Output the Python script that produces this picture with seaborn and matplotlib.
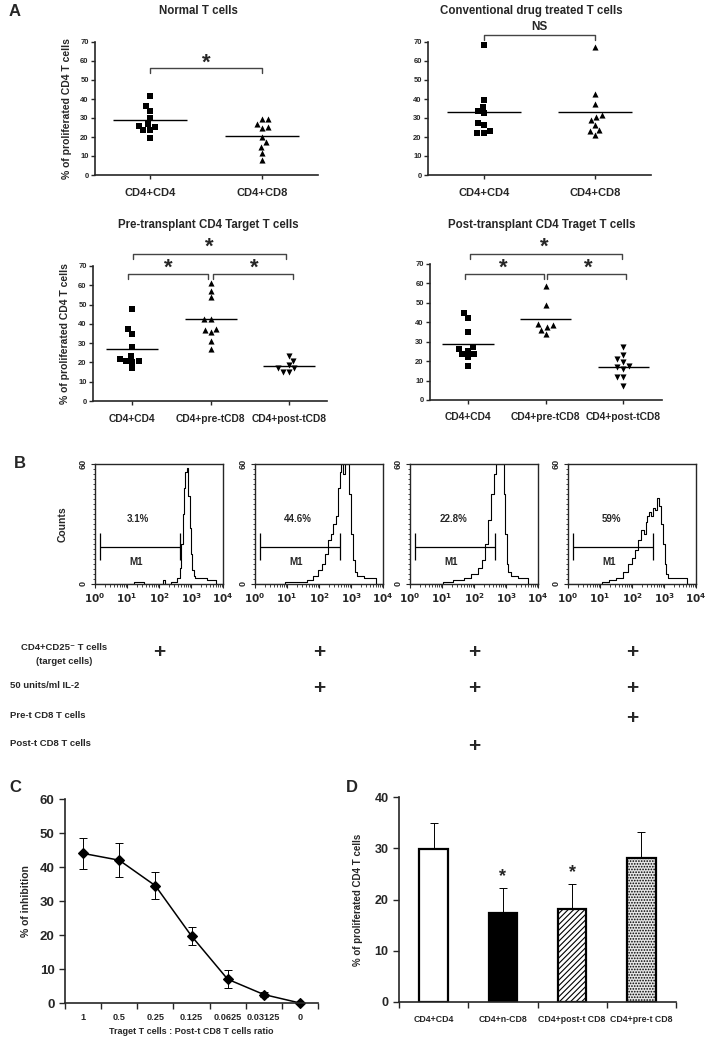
import numpy as np
import matplotlib
matplotlib.use("Agg")
import matplotlib.pyplot as plt
from matplotlib.ticker import MultipleLocator, FixedLocator, NullFormatter
import seaborn as sns

# ---------------------------------------------------------------------------
# Data
# ---------------------------------------------------------------------------

# Panel A — % of proliferated CD4 T cells
normal_cd4 = [41.7, 36.4, 33.9, 29.9, 25.9, 23.7, 23.7, 25.5, 26.7, 19.5]
normal_cd8 = [29.7, 29.7, 25.0, 24.6, 26.9, 20.2, 14.8, 17.2, 11.6, 7.7]
drug_cd4 = [68.2, 39.6, 35.7, 32.5, 33.8, 27.6, 26.4, 23.4, 22.0, 22.3]
drug_cd8 = [67.4, 42.6, 37.6, 28.7, 30.4, 31.5, 26.4, 23.6, 22.9, 21.1]
pre_cd4 = [47.6, 37.2, 34.8, 28.2, 22.0, 20.6, 20.2, 20.9, 23.3, 16.9]
pre_pre_cd8 = [61.4, 57.2, 54.0, 42.5, 42.5, 37.5, 35.8, 36.7, 31.1, 27.1]
pre_post_cd8 = [23.2, 20.6, 18.5, 17.1, 15.2, 15.2, 17.1]
post_cd4 = [44.6, 42.0, 34.8, 25.2, 23.5, 26.2, 27.3, 21.9, 23.5, 17.5]
post_pre_cd8 = [58.8, 48.9, 38.6, 37.4, 38.9, 33.9, 36.0]
post_post_cd8 = [27.1, 20.9, 19.7, 23.0, 17.5, 16.1, 17.0, 12.0, 11.7, 7.4]

two_groups = ["CD4+CD4", "CD4+CD8"]
three_groups = ["CD4+CD4", "CD4+pre-tCD8", "CD4+post-tCD8"]

# Panel B — CFSE histograms (log10 fluorescence, counts)
hist1_log = [0, 1.2, 1.25, 1.5, 1.55, 2.1, 2.15, 2.2, 2.5, 2.62, 2.68, 2.72, 2.76,
             2.8, 2.85, 2.9, 2.94, 2.98, 3.02, 3.06, 3.1, 3.15, 3.4, 3.6, 3.78, 3.8, 4]
hist1_cnt = [0, 0, 1, 1, 0, 0, 2, 0, 1, 3, 8, 20, 35, 48, 56, 58, 44, 28, 15, 7,
             4, 3, 3, 2, 2, 0, 0]
hist2_log = [0, 0.9, 1.0, 1.5, 1.7, 1.9, 2.05, 2.15, 2.25, 2.32, 2.4, 2.5, 2.58,
             2.63, 2.68, 2.72, 2.78, 2.84, 2.9, 2.96, 3.02, 3.08, 3.15, 3.25, 3.5, 3.78, 3.8, 4]
hist2_cnt = [0, 0, 1, 1, 2, 4, 7, 10, 15, 22, 25, 30, 34, 48, 56, 60, 55, 60, 60,
             45, 25, 12, 6, 4, 3, 3, 0, 0]
hist3_log = [0, 1.0, 1.05, 1.5, 1.8, 2.0, 2.2, 2.3, 2.4, 2.5, 2.58, 2.65, 2.72,
             2.9, 2.95, 3.0, 3.05, 3.1, 3.2, 3.5, 3.68, 3.7, 4]
hist3_cnt = [0, 0, 1, 2, 3, 5, 8, 12, 20, 32, 45, 55, 60, 60, 45, 25, 10, 6, 4,
             3, 3, 0, 0]
hist4_log = [0, 1.0, 1.1, 1.4, 1.6, 1.8, 1.95, 2.05, 2.15, 2.25, 2.32, 2.4, 2.45,
             2.5, 2.56, 2.62, 2.68, 2.74, 2.82, 2.88, 2.94, 3.0, 3.05, 3.1, 3.15,
             3.5, 3.72, 3.74, 4]
hist4_cnt = [0, 0, 1, 2, 3, 6, 10, 13, 17, 22, 27, 25, 31, 34, 36, 34, 38, 37, 43,
             39, 30, 20, 10, 5, 3, 3, 3, 0, 0]
gate_pct = ["3.1%", "44.6%", "22.8%", "59%"]
gate_bounds = (10 ** 0.15, 10 ** 2.65)

# Panel B — culture conditions table
row_labels = ["CD4+CD25\u207b T cells\n(target cells)", "50 units/ml IL-2",
              "Pre-t CD8 T cells", "Post-t CD8 T cells"]
presence = [[1, 1, 1, 1],
            [0, 1, 1, 1],
            [0, 0, 0, 1],
            [0, 0, 1, 0]]

# Panel C — inhibition vs ratio
ratio_labels = ["1", "0.5", "0.25", "0.125", "0.0625", "0.03125", "0"]
inhibition = [44.0, 42.0, 34.5, 19.7, 7.0, 2.5, 0.0]
inhibition_err = [4.5, 5.0, 4.0, 2.6, 2.7, 0.6, 0.0]

# Panel D — bar chart
d_groups = ["CD4+CD4", "CD4+n-CD8", "CD4+post-t CD8", "CD4+pre-t CD8"]
d_values = [29.9, 17.3, 18.2, 28.1]
d_errors = [5.1, 4.9, 4.8, 5.0]
d_signif = [False, True, True, False]

# ---------------------------------------------------------------------------
# Figure setup
# ---------------------------------------------------------------------------
sns.set_style("ticks")
plt.rcParams["font.family"] = ["Liberation Sans", "DejaVu Sans"]
plt.rcParams["font.weight"] = "bold"
plt.rcParams["axes.labelweight"] = "bold"
plt.rcParams["hatch.linewidth"] = 0.8

W, H = 710, 1050
fig = plt.figure(figsize=(W / 100, H / 100), dpi=100)


def px_axes(l, t, r, b):
    return fig.add_axes([l / W, (H - b) / H, (r - l) / W, (b - t) / H])


def ftext(x, y, s, **kw):
    kw.setdefault("ha", "center")
    kw.setdefault("va", "center")
    return fig.text(x / W, 1 - y / H, s, **kw)


def bracket(ax, x0, x1, y, drop=2.5):
    ax.plot([x0, x0, x1, x1], [y - drop, y, y, y - drop], color="#444444",
            lw=1.0, clip_on=False)


def star(ax, x, y, size=16):
    ax.text(x, y, "*", fontsize=size, ha="center", va="center", clip_on=False)


def dot_panel(ax, cats, groups, markers, xlim, ylabel=None, catsize=8):
    for cat, vals, m in zip(cats, groups, markers):
        sns.swarmplot(x=[cat] * len(vals), y=vals, order=cats, marker=m,
                      color="black", size=4.4, linewidth=0, ax=ax)
        i = cats.index(cat)
        ax.hlines(np.mean(vals), i - 0.33, i + 0.33, color="black", lw=1.0)
    ax.set_xlim(*xlim)
    ax.set_ylim(0, 70)
    ax.yaxis.set_major_locator(MultipleLocator(10))
    sns.despine(ax=ax)
    for s in ("left", "bottom"):
        ax.spines[s].set_linewidth(1.2)
    ax.tick_params(axis="y", labelsize=5.5, length=3, width=1, pad=1.5)
    ax.tick_params(axis="x", labelsize=catsize, length=3, width=1, pad=6)
    ax.set_xlabel("")
    if ylabel:
        ax.set_ylabel(ylabel, fontsize=7.5, labelpad=6)
    else:
        ax.set_ylabel("")


# ---------------------------------------------------------------------------
# Panel A
# ---------------------------------------------------------------------------
ylab = "% of proliferated CD4 T cells"

ax = px_axes(95, 42, 318, 175)
dot_panel(ax, two_groups, [normal_cd4, normal_cd8], ["s", "^"], (-0.49, 1.5), ylab)
bracket(ax, 0, 1, 56.3)
star(ax, 0.5, 58.8)
ftext(198, 11, "Normal T cells", fontsize=8.3)

ax = px_axes(428, 42, 651, 175)
dot_panel(ax, two_groups, [drug_cd4, drug_cd8], ["s", "^"], (-0.5, 1.5))
bracket(ax, 0, 1, 73.7)
ax.text(0.5, 78, "NS", fontsize=8.5, ha="center", va="center", clip_on=False)
ftext(531, 11, "Conventional drug treated T cells", fontsize=8.3)

ax = px_axes(93, 266, 327, 401)
dot_panel(ax, three_groups, [pre_cd4, pre_pre_cd8, pre_post_cd8],
          ["s", "^", "v"], (-0.5, 2.48), ylab, catsize=7.4)
bracket(ax, 0.01, 1.96, 76.2)
bracket(ax, -0.05, 0.97, 65.8)
bracket(ax, 1.03, 2.05, 65.8)
for xm, ym in [(0.98, 79.5), (0.46, 69.0), (1.55, 69.0)]:
    star(ax, xm, ym)
ftext(208, 225, "Pre-transplant CD4 Target T cells", fontsize=8.3)

ax = px_axes(430, 264, 662, 400)
dot_panel(ax, three_groups, [post_cd4, post_pre_cd8, post_post_cd8],
          ["s", "^", "v"], (-0.49, 2.5), catsize=7.4)
bracket(ax, 0.02, 1.98, 75.0)
bracket(ax, -0.04, 0.98, 64.8)
bracket(ax, 1.02, 2.04, 64.8)
for xm, ym in [(0.98, 78.5), (0.46, 68.0), (1.55, 68.0)]:
    star(ax, xm, ym)
ftext(542, 225, "Post-transplant CD4 Traget T cells", fontsize=8.3)

# ---------------------------------------------------------------------------
# Panel B — histograms
# ---------------------------------------------------------------------------
hists = [(hist1_log, hist1_cnt), (hist2_log, hist2_cnt),
         (hist3_log, hist3_cnt), (hist4_log, hist4_cnt)]
hist_axes = []
for k, ((lx, cnt), left) in enumerate(zip(hists, [95, 255, 410, 568])):
    ax = px_axes(left, 464, left + 128, 584)
    hist_axes.append(ax)
    sns.lineplot(x=10 ** np.array(lx), y=cnt, ax=ax, color="black", lw=0.8,
                 drawstyle="steps-mid", estimator=None, sort=True)
    ax.set_xscale("log")
    ax.set_xlim(1, 1e4)
    ax.set_ylim(0, 60)
    ax.set_xticks([1, 10, 100, 1000, 10000])
    ax.set_xticklabels([r"$10^{%d}$" % e for e in range(5)], fontsize=7.5)
    ax.xaxis.set_minor_locator(FixedLocator(
        [m * 10 ** e for e in range(4) for m in range(2, 10)]))
    ax.xaxis.set_minor_formatter(NullFormatter())
    ax.set_yticks([0, 60])
    ax.set_yticklabels(["0", "60"], rotation=90, va="center", fontsize=6.5)
    ax.yaxis.set_minor_locator(MultipleLocator(2.5))
    ax.tick_params(which="major", length=3, width=0.8, pad=2)
    ax.tick_params(which="minor", length=1.8, width=0.6)
    for s in ax.spines.values():
        s.set_linewidth(1.0)
    lo, hi = gate_bounds
    ax.hlines(18.5, lo, hi, color="black", lw=0.9)
    ax.vlines([lo, hi], 12, 25.5, color="black", lw=0.9)
    ax.text(10 ** 1.35, 32.5, gate_pct[k], fontsize=7, ha="center", va="center")
    ax.text(10 ** 1.3, 11, "M1", fontsize=7, ha="center", va="center")
    ax.set_xlabel("")
    ax.set_ylabel("")
hist_axes[0].set_ylabel("Counts", fontsize=7.5, labelpad=8)

# Culture conditions table
row_y = [653, 689, 718, 747]
first, second = row_labels[0].split("\n")
ftext(64, 647, first, fontsize=6.8)
ftext(64, 662, second, fontsize=6.8)
for r, lab in enumerate(row_labels[1:], start=1):
    ftext(10, row_y[r] - 3, lab, fontsize=6.8, ha="left")
for r, flags in enumerate(presence):
    for c, on in enumerate(flags):
        if on:
            bb = hist_axes[c].get_position()
            fig.text((bb.x0 + bb.x1) / 2, 1 - row_y[r] / H, "+", fontsize=15,
                     ha="center", va="center")

# ---------------------------------------------------------------------------
# Panel C — inhibition curve
# ---------------------------------------------------------------------------
ax = px_axes(65, 799, 318, 1003)
sns.pointplot(x=ratio_labels, y=inhibition, order=ratio_labels, color="black",
              markers="D", markersize=5, linewidth=1.1, errorbar=None, ax=ax)
ax.errorbar(range(len(inhibition)), inhibition, yerr=inhibition_err, fmt="none",
            ecolor="black", elinewidth=0.7, capsize=3, capthick=0.7)
for art in ax.lines + ax.collections:
    art.set_clip_on(False)
ax.set_xlim(-0.5, 6.5)
ax.set_ylim(0, 60)
ax.yaxis.set_major_locator(MultipleLocator(10))
ax.set_xticks(np.arange(-0.5, 7, 1))
ax.set_xticklabels([])
ax.set_xticks(range(7), minor=True)
ax.set_xticklabels(ratio_labels, minor=True, fontsize=6.6)
ax.tick_params(axis="x", which="minor", length=0, pad=7)
ax.tick_params(axis="x", which="major", length=4, width=1)
ax.tick_params(axis="y", labelsize=9.5, length=4, width=1)
sns.despine(ax=ax)
for s in ("left", "bottom"):
    ax.spines[s].set_linewidth(1.2)
ax.set_xlabel("Traget T cells : Post-t CD8 T cells ratio", fontsize=6.5, labelpad=4)
ax.set_ylabel("% of inhibition", fontsize=7.5, labelpad=6)

# ---------------------------------------------------------------------------
# Panel D — bars
# ---------------------------------------------------------------------------
ax = px_axes(399, 797, 676, 1002)
sns.barplot(x=d_groups, y=d_values, order=d_groups, width=0.41, errorbar=None,
            color="white", edgecolor="black", linewidth=1.6, ax=ax)
faces = ["white", "black", "white", "#e6e6e6"]
hatches = [None, None, "//////", "......"]
for p, fc, h in zip(ax.patches, faces, hatches):
    p.set_facecolor(fc)
    p.set_edgecolor("black")
    if h:
        p.set_hatch(h)
ax.errorbar(range(len(d_values)), d_values,
            yerr=[np.zeros(len(d_errors)), d_errors], fmt="none",
            ecolor="black", elinewidth=0.7, capsize=3, capthick=0.7, zorder=0)
for i, (v, e, sig) in enumerate(zip(d_values, d_errors, d_signif)):
    if sig:
        star(ax, i, v + e + 2.2, size=13)
ax.set_xlim(-0.5, 3.5)
ax.set_ylim(0, 40)
ax.yaxis.set_major_locator(MultipleLocator(10))
ax.set_xticks(np.arange(-0.5, 4, 1))
ax.set_xticklabels([])
ax.set_xticks(range(4), minor=True)
ax.set_xticklabels(d_groups, minor=True, fontsize=6.3)
ax.tick_params(axis="x", which="minor", length=0, pad=9)
ax.tick_params(axis="x", which="major", length=4, width=1)
ax.tick_params(axis="y", labelsize=9, length=4, width=1)
sns.despine(ax=ax)
for s in ("left", "bottom"):
    ax.spines[s].set_linewidth(1.2)
ax.set_xlabel("")
ax.set_ylabel("% of proliferated CD4 T cells", fontsize=7, labelpad=8)

# Panel letters
for letter, (x, y) in zip("ABCD", [(15, 12), (20, 464), (15, 787), (352, 787)]):
    ftext(x, y, letter, fontsize=12)

fig.savefig("out.png", dpi=100)
